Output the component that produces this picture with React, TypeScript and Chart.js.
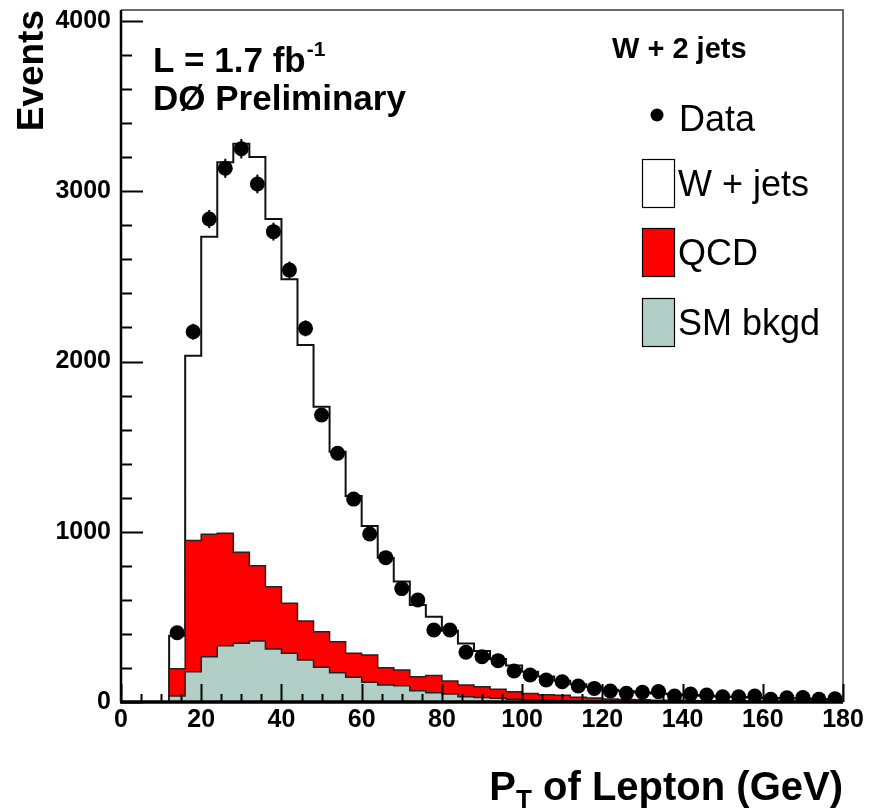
import React, { useEffect, useRef } from "react";
import { Chart, registerables } from "chart.js";

Chart.register(...registerables);

// Lepton pT histogram, W + 2 jets selection (4 GeV bins, 12-180 GeV)
const binWidth = 4;
const binCenters = [
  14, 18, 22, 26, 30, 34, 38, 42, 46, 50, 54, 58, 62, 66, 70, 74, 78, 82, 86, 90, 94,
  98, 102, 106, 110, 114, 118, 122, 126, 130, 134, 138, 142, 146, 150, 154, 158, 162,
  166, 170, 174, 178,
];

const dataCounts = [
  407, 2175, 2837, 3135, 3250, 3043, 2763, 2537, 2195, 1686, 1461, 1192, 987, 848, 666,
  599, 423, 423, 292, 266, 243, 182, 159, 129, 119, 94, 80, 65, 51, 57, 61, 35, 47, 41,
  31, 31, 35, 16, 25, 26, 16, 19,
];

const wJets = [
  194, 1086, 1748, 2179, 2400, 2400, 2160, 1903, 1621, 1322, 1116, 924, 758, 647, 520,
  421, 346, 295, 243, 210, 177, 155, 128, 107, 85, 77, 65, 54, 48, 43, 39, 35, 32, 29,
  26, 24, 22, 19, 18, 16, 15, 13,
];

const qcd = [
  160, 770, 719, 660, 534, 443, 366, 294, 229, 209, 182, 141, 160, 101, 93, 83, 100, 76,
  69, 63, 53, 44, 38, 33, 32, 22, 18, 14, 12, 10, 9, 8, 7, 7, 6, 5, 4, 4, 3, 3, 3, 3,
];

const smBkgd = [
  35, 178, 266, 331, 345, 358, 311, 286, 247, 204, 172, 145, 116, 100, 95, 66, 55, 47,
  31, 27, 22, 16, 12, 10, 8, 6, 5, 4, 3, 3, 2, 2, 2, 1, 1, 1, 1, 1, 1, 1, 0, 0,
];

const xMin = 0;
const xMax = 180;
const yMin = 0;
const yMax = 4065;
const xTickValues = [0, 20, 40, 60, 80, 100, 120, 140, 160, 180];
const yTickValues = [0, 1000, 2000, 3000, 4000];
const xMajorStep = 20;
const xMinorStep = 5;
const yMajorStep = 1000;
const yMinorStep = 200;

const legendTitle = "W + 2 jets";
const legendEntries = ["Data", "W + jets", "QCD", "SM bkgd"];

const RED = "#ff0000";
const TEAL = "rgb(178, 207, 199)";
const FONT = "'Liberation Sans', Arial, Helvetica, sans-serif";

// cumulative stack tops
const smTop = smBkgd.slice();
const qcdTop = smBkgd.map((v, i) => v + qcd[i]);
const totalTop = qcdTop.map((v, i) => v + wJets[i]);

// outline points at lower bin edges, for a "before"-stepped line
function stepSeries(values: number[]) {
  const pts = [{ x: xMin, y: 0 }];
  binCenters.forEach((c, i) => pts.push({ x: c - binWidth / 2, y: values[i] }));
  pts.push({ x: xMax, y: values[values.length - 1] });
  return pts;
}

const decorPlugin = {
  id: "rootDecor",
  afterDraw(chart: any) {
    const { ctx, chartArea, scales } = chart;
    const xs = scales.x;
    const ys = scales.y;
    const { left, right, top, bottom } = chartArea;
    ctx.save();

    // statistical error bars on data points
    ctx.strokeStyle = "#000";
    ctx.lineWidth = 2;
    binCenters.forEach((c, i) => {
      const n = dataCounts[i];
      const e = Math.sqrt(n);
      const px = xs.getPixelForValue(c);
      ctx.beginPath();
      ctx.moveTo(px, ys.getPixelForValue(n + e));
      ctx.lineTo(px, ys.getPixelForValue(Math.max(0, n - e)));
      ctx.stroke();
    });

    // frame (top + right)
    ctx.strokeStyle = "#3a3a3a";
    ctx.lineWidth = 1.5;
    ctx.beginPath();
    ctx.moveTo(left, top);
    ctx.lineTo(right, top);
    ctx.lineTo(right, bottom);
    ctx.stroke();

    // inward tick marks
    ctx.strokeStyle = "#000";
    ctx.lineWidth = 2;
    for (let v = yMin; v <= 4000; v += yMinorStep) {
      const py = Math.round(ys.getPixelForValue(v)) + 0.5;
      const len = v % yMajorStep === 0 ? 22 : 11;
      ctx.beginPath();
      ctx.moveTo(left, py);
      ctx.lineTo(left + len, py);
      ctx.stroke();
    }
    for (let v = xMin; v <= xMax; v += xMinorStep) {
      const px = Math.round(xs.getPixelForValue(v)) + 0.5;
      const len = v % xMajorStep === 0 ? 18 : 8;
      ctx.beginPath();
      ctx.moveTo(px, bottom);
      ctx.lineTo(px, bottom - len);
      ctx.stroke();
    }

    // axis lines
    ctx.lineWidth = 2.5;
    ctx.beginPath();
    ctx.moveTo(left, top);
    ctx.lineTo(left, bottom);
    ctx.stroke();
    ctx.lineWidth = 3.5;
    ctx.beginPath();
    ctx.moveTo(left - 1, bottom);
    ctx.lineTo(right, bottom);
    ctx.stroke();

    ctx.fillStyle = "#000";
    ctx.textBaseline = "alphabetic";

    // y-axis title
    ctx.save();
    ctx.translate(43, top);
    ctx.rotate(-Math.PI / 2);
    ctx.textAlign = "right";
    ctx.font = `bold 37px ${FONT}`;
    ctx.fillText("Events", 0, 0);
    ctx.restore();

    // x-axis title with subscript
    ctx.textAlign = "left";
    const bigFont = `bold 40px ${FONT}`;
    const subFont = `bold 26px ${FONT}`;
    ctx.font = bigFont;
    const wP = ctx.measureText("P").width;
    const rest = " of Lepton (GeV)";
    const wRest = ctx.measureText(rest).width;
    ctx.font = subFont;
    const wT = ctx.measureText("T").width;
    const titleBase = 800;
    let tx = right - (wP + wT + wRest);
    ctx.font = bigFont;
    ctx.fillText("P", tx, titleBase);
    tx += wP;
    ctx.font = subFont;
    ctx.fillText("T", tx, titleBase + 8);
    tx += wT;
    ctx.font = bigFont;
    ctx.fillText(rest, tx, titleBase);

    // luminosity / experiment labels
    ctx.font = `bold 35px ${FONT}`;
    const lumi = "L = 1.7 fb";
    ctx.fillText(lumi, 153, 72);
    const wLumi = ctx.measureText(lumi).width;
    ctx.font = `bold 21px ${FONT}`;
    ctx.fillText("-1", 153 + wLumi + 1, 56);
    ctx.font = `bold 35px ${FONT}`;
    ctx.fillText("DØ Preliminary", 153, 110);

    // legend
    ctx.font = `bold 29px ${FONT}`;
    ctx.fillText(legendTitle, 612, 58);

    ctx.font = `36px ${FONT}`;
    ctx.beginPath();
    ctx.arc(657, 115, 6.5, 0, Math.PI * 2);
    ctx.fill();
    ctx.fillText(legendEntries[0], 679, 131);

    const boxFills = ["#ffffff", RED, TEAL];
    const boxTops = [159, 228, 298];
    ctx.lineWidth = 1.2;
    ctx.strokeStyle = "#000";
    boxTops.forEach((by, k) => {
      ctx.fillStyle = boxFills[k];
      ctx.fillRect(642, by, 32, 48);
      ctx.strokeRect(642.5, by + 0.5, 32, 48);
      ctx.fillStyle = "#000";
      ctx.fillText(legendEntries[k + 1], 678, by + 24 + 13);
    });

    ctx.restore();
  },
};

export default function App() {
  const canvasRef = useRef<HTMLCanvasElement | null>(null);

  useEffect(() => {
    const canvas = canvasRef.current;
    if (!canvas) return;
    const tickFont = { family: FONT, size: 25, weight: "bold" as const };

    const chart = new Chart(canvas, {
      type: "line",
      data: {
        datasets: [
          {
            type: "scatter",
            label: legendEntries[0],
            data: binCenters.map((c, i) => ({ x: c, y: dataCounts[i] })),
            pointRadius: 7.5,
            pointBackgroundColor: "#000",
            pointBorderWidth: 0,
            showLine: false,
          } as any,
          {
            label: legendEntries[3],
            data: stepSeries(smTop),
            stepped: "before",
            fill: "origin",
            backgroundColor: TEAL,
            borderColor: "#222",
            borderWidth: 1.5,
            pointRadius: 0,
          },
          {
            label: legendEntries[2],
            data: stepSeries(qcdTop),
            stepped: "before",
            fill: "-1",
            backgroundColor: RED,
            borderColor: "#222",
            borderWidth: 1.5,
            pointRadius: 0,
          },
          {
            label: legendEntries[1],
            data: stepSeries(totalTop),
            stepped: "before",
            fill: "-1",
            backgroundColor: "#ffffff",
            borderColor: "#111",
            borderWidth: 2,
            pointRadius: 0,
          },
        ],
      },
      options: {
        animation: false,
        responsive: false,
        maintainAspectRatio: false,
        layout: { padding: { top: 10, right: 26, left: 0, bottom: 0 }, autoPadding: false },
        plugins: { legend: { display: false }, tooltip: { enabled: false } },
        scales: {
          x: {
            type: "linear",
            min: xMin,
            max: xMax,
            grid: { display: false, drawTicks: false },
            border: { display: false },
            afterBuildTicks: (s: any) => {
              s.ticks = xTickValues.map((v) => ({ value: v }));
            },
            ticks: {
              autoSkip: false,
              maxRotation: 0,
              padding: 3,
              color: "#000",
              font: tickFont,
              callback: (v: any) => String(v),
            },
            afterFit: (s: any) => {
              s.height = 110;
              s.paddingLeft = 0;
              s.paddingRight = 0;
            },
          },
          y: {
            type: "linear",
            min: yMin,
            max: yMax,
            grid: { display: false, drawTicks: false },
            border: { display: false },
            afterBuildTicks: (s: any) => {
              s.ticks = yTickValues.map((v) => ({ value: v }));
            },
            ticks: {
              autoSkip: false,
              padding: 10,
              color: "#000",
              font: tickFont,
              callback: (v: any) => String(v),
            },
            afterFit: (s: any) => {
              s.width = 121;
              s.paddingTop = 0;
              s.paddingBottom = 0;
            },
          },
        },
      },
      plugins: [decorPlugin],
    });

    return () => chart.destroy();
  }, []);

  return (
    <div style={{ position: "absolute", left: 0, top: 0, width: 869, height: 812, background: "#fff" }}>
      <canvas ref={canvasRef} width={869} height={812} style={{ display: "block" }} />
    </div>
  );
}
